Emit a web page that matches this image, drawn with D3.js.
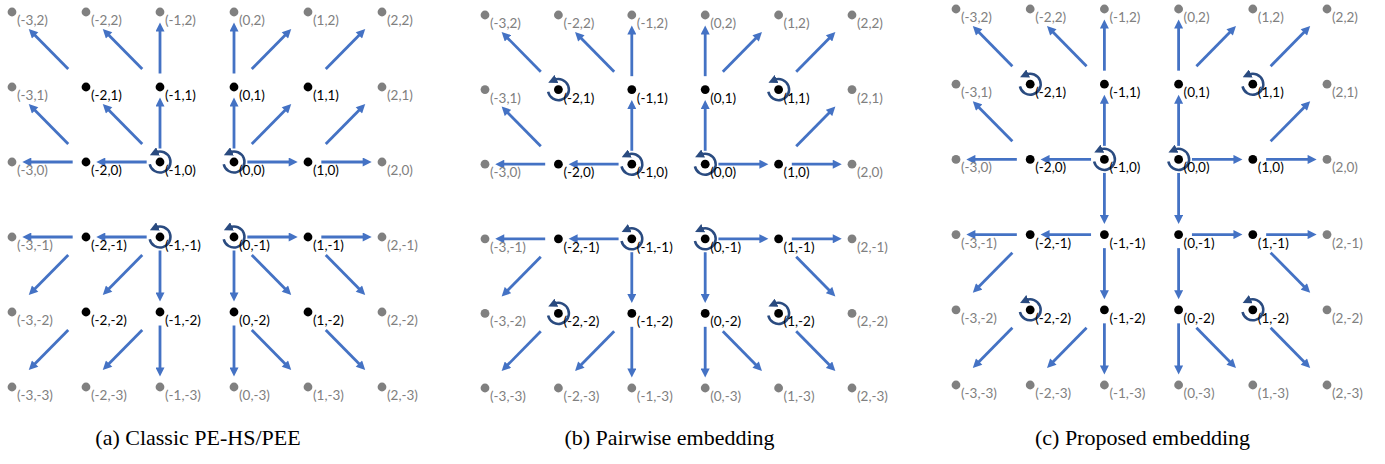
<!DOCTYPE html>
<html>
<head>
<meta charset="utf-8">
<script src="https://cdn.jsdelivr.net/npm/d3@7"></script>
<style>
  body { margin: 0; background: #fff; }
  .lbl { font-family: Lato, "Noto Sans", sans-serif; font-size: 13.5px; }
  .cap { font-family: "Liberation Serif", "Times New Roman", serif; font-size: 22px; fill: #000; }
</style>
</head>
<body>
<svg width="1385" height="464"></svg>
<script>
const svg = d3.select("svg");

// grid coordinates shown in every panel
const cols = [-3, -2, -1, 0, 1, 2];
const rows = [2, 1, 0, -1, -2, -3];

const captions = ["(a) Classic PE-HS/PEE", "(b) Pairwise embedding", "(c) Proposed embedding"];

// arrows as [from, to] in grid coordinates
const arrowsA = [
    [[-2, 0], [-3, 0]], [[-1, 0], [-2, 0]], [[0, 0], [1, 0]], [[1, 0], [2, 0]],
    [[-2, 0], [-3, 1]], [[-1, 0], [-2, 1]], [[-1, 0], [-1, 1]], [[0, 0], [0, 1]], [[0, 0], [1, 1]], [[1, 0], [2, 1]],
    [[-2, 1], [-3, 2]], [[-1, 1], [-2, 2]], [[-1, 1], [-1, 2]], [[0, 1], [0, 2]], [[0, 1], [1, 2]], [[1, 1], [2, 2]],
    [[-2, -1], [-3, -1]], [[-1, -1], [-2, -1]], [[0, -1], [1, -1]], [[1, -1], [2, -1]],
    [[-2, -1], [-3, -2]], [[-1, -1], [-2, -2]], [[-1, -1], [-1, -2]], [[0, -1], [0, -2]], [[0, -1], [1, -2]], [[1, -1], [2, -2]],
    [[-2, -2], [-3, -3]], [[-1, -2], [-2, -3]], [[-1, -2], [-1, -3]], [[0, -2], [0, -3]], [[0, -2], [1, -3]], [[1, -2], [2, -3]]
];

const arrowsB = [
    [[-2, 0], [-3, 0]], [[-1, 0], [-2, 0]], [[0, 0], [1, 0]], [[1, 0], [2, 0]],
    [[-2, 0], [-3, 1]], [[-1, 0], [-1, 1]], [[0, 0], [0, 1]], [[1, 0], [2, 1]],
    [[-2, 1], [-3, 2]], [[-1, 1], [-2, 2]], [[-1, 1], [-1, 2]], [[0, 1], [0, 2]], [[0, 1], [1, 2]], [[1, 1], [2, 2]],
    [[-2, -1], [-3, -1]], [[-1, -1], [-2, -1]], [[0, -1], [1, -1]], [[1, -1], [2, -1]],
    [[-2, -1], [-3, -2]], [[-1, -1], [-1, -2]], [[0, -1], [0, -2]], [[1, -1], [2, -2]],
    [[-2, -2], [-3, -3]], [[-1, -2], [-2, -3]], [[-1, -2], [-1, -3]], [[0, -2], [0, -3]], [[0, -2], [1, -3]], [[1, -2], [2, -3]]
];

const arrowsC = arrowsB.concat([
    [[-1, 0], [-1, -1]], [[0, 0], [0, -1]]
]);

// pixels that carry a rotation mark
const rotA = [[-1, 0], [0, 0], [-1, -1], [0, -1]];
const rotB = [[-2, 1], [1, 1], [-1, 0], [0, 0], [-1, -1], [0, -1], [-2, -2], [1, -2]];
const rotC = [[-2, 1], [1, 1], [-1, 0], [0, 0], [-2, -2], [1, -2]];

const arrowBlue = "#4472c4";
const rotBlue = "#2a4b80";

// arrow heads
const defs = svg.append("defs");
defs.append("marker")
    .attr("id", "head")
    .attr("viewBox", "0 0 10 10")
    .attr("refX", 3).attr("refY", 5)
    .attr("markerUnits", "userSpaceOnUse")
    .attr("markerWidth", 10).attr("markerHeight", 9)
    .attr("orient", "auto")
    .append("path").attr("d", "M0,0L10,5L0,10Z").attr("fill", arrowBlue);
defs.append("marker")
    .attr("id", "rothead")
    .attr("viewBox", "0 0 10 10")
    .attr("refX", 3).attr("refY", 5)
    .attr("markerUnits", "userSpaceOnUse")
    .attr("markerWidth", 9).attr("markerHeight", 9)
    .attr("orient", "auto")
    .append("path").attr("d", "M0,0L10,5L0,10Z").attr("fill", rotBlue);

const points = [];
rows.forEach(r => cols.forEach(c => points.push({ x: c, y: r, inner: c >= -2 && c <= 1 && r >= -2 && r <= 1 })));

const panels = [
    { caption: captions[0], arrows: arrowsA, rot: rotA, left: 12, top: 12, w: 370, h: 375 },
    { caption: captions[1], arrows: arrowsB, rot: rotB, left: 485, top: 15, w: 367, h: 373 },
    { caption: captions[2], arrows: arrowsC, rot: rotC, left: 956, top: 9, w: 371, h: 376 }
];

drawPanel = p => {
    const g = svg.append("g").attr("transform", `translate(${p.left},${p.top})`);

    const xScale = d3.scaleLinear().domain([d3.min(cols), d3.max(cols)]).range([0, p.w]);
    const yScale = d3.scaleLinear().domain([d3.max(rows), d3.min(rows)]).range([0, p.h]);

    // arrows, shortened at both ends
    const headLen = 10;
    g.selectAll("line.arrow").data(p.arrows)
        .enter().append("line")
        .attr("class", "arrow")
        .each(function (d) {
            const x0 = xScale(d[0][0]), y0 = yScale(d[0][1]);
            const x1 = xScale(d[1][0]), y1 = yScale(d[1][1]);
            const diag = d[0][0] !== d[1][0] && d[0][1] !== d[1][1];
            const t0 = diag ? 0.24 : 0.18, t1 = diag ? 0.78 : 0.87;
            const dx = x1 - x0, dy = y1 - y0, len = Math.hypot(dx, dy);
            const tx = x0 + t1 * dx, ty = y0 + t1 * dy;
            d3.select(this)
                .attr("x1", x0 + t0 * dx).attr("y1", y0 + t0 * dy)
                .attr("x2", tx - dx / len * headLen * 0.7)
                .attr("y2", ty - dy / len * headLen * 0.7);
        })
        .attr("stroke", arrowBlue)
        .attr("stroke-width", 2.8)
        .attr("marker-end", "url(#head)");

    // rotation marks
    const r = 10.5;
    g.selectAll("path.rot").data(p.rot)
        .enter().append("path")
        .attr("class", "rot")
        .attr("d", d => {
            const path = d3.path();
            const cx = xScale(d[0]), cy = yScale(d[1]);
            const a0 = 168 * Math.PI / 180, a1 = -115 * Math.PI / 180;
            path.moveTo(cx + r * Math.cos(a0), cy + r * Math.sin(a0));
            path.arc(cx, cy, r, a0, a1, true);
            return path.toString();
        })
        .attr("fill", "none")
        .attr("stroke", rotBlue)
        .attr("stroke-width", 2.5)
        .attr("marker-end", "url(#rothead)");

    // pixel dots
    g.selectAll("circle").data(points)
        .enter().append("circle")
        .attr("cx", d => xScale(d.x))
        .attr("cy", d => yScale(d.y))
        .attr("r", 4.4)
        .attr("fill", d => d.inner ? "#000" : "#808080");

    // pixel labels
    g.selectAll("text.lbl").data(points)
        .enter().append("text")
        .attr("class", "lbl")
        .attr("x", d => xScale(d.x) + 5)
        .attr("y", d => yScale(d.y) + 13)
        .attr("fill", d => d.inner ? "#000" : "#808080")
        .text(d => `(${d.x},${d.y})`);

    // caption
    svg.append("text")
        .attr("class", "cap")
        .attr("x", p.left + p.w / 2 + 1)
        .attr("y", 445)
        .attr("text-anchor", "middle")
        .text(p.caption);
};

panels.forEach(drawPanel);
</script>
</body>
</html>
